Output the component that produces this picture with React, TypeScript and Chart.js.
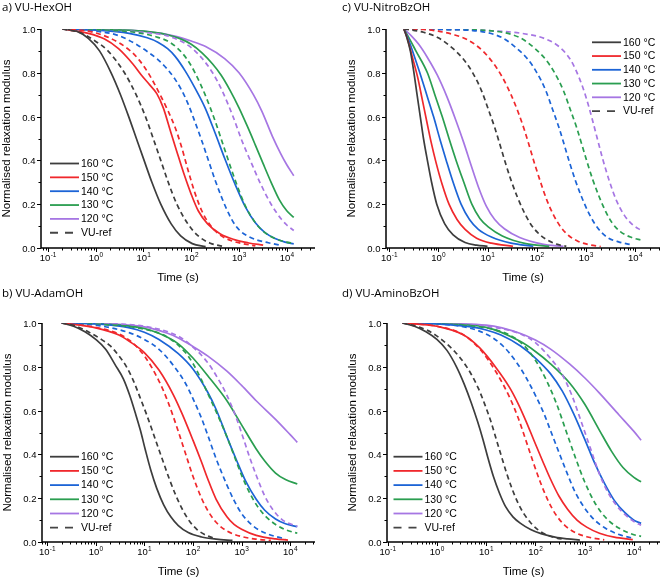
import React, { useEffect, useRef } from 'react';
import { Chart, registerables } from 'chart.js';

Chart.register(...registerables);

type Pt = [number, number];

// ---------- a) VU-HexOH : [time (s), normalised modulus] ----------
const hex160: Pt[] = [[0.2,1],[0.4,0.99],[0.7,0.957],[1.2,0.9],[2.1,0.8],[3.3,0.7],[4.9,0.6],[7.1,0.5],[10.3,0.4],[15,0.3],[23,0.2],[38,0.11],[60,0.055],[105,0.02],[200,0.006]];
const hex150: Pt[] = [[0.2,1],[0.7,0.98],[1.5,0.955],[3,0.91],[6,0.84],[9,0.79],[13.5,0.745],[19,0.705],[26,0.64],[36,0.54],[50,0.44],[70,0.34],[100,0.245],[140,0.17],[220,0.11],[400,0.065],[800,0.038],[1600,0.023],[3200,0.013]];
const hex140: Pt[] = [[0.2,1],[1,0.995],[5,0.98],[12,0.96],[20,0.94],[32,0.91],[46,0.875],[74,0.81],[120,0.73],[195,0.64],[316,0.525],[510,0.405],[830,0.29],[1340,0.19],[2200,0.115],[3500,0.07],[5700,0.043],[9200,0.027],[14000,0.019]];
const hex130: Pt[] = [[0.2,1],[1,0.998],[10,0.99],[30,0.975],[60,0.955],[100,0.93],[170,0.89],[280,0.84],[420,0.79],[650,0.72],[1000,0.64],[1500,0.555],[2200,0.47],[3200,0.385],[4700,0.3],[7000,0.22],[10000,0.17],[14000,0.14]];
const hex120: Pt[] = [[0.2,1],[1,0.998],[10,0.99],[50,0.965],[100,0.945],[200,0.92],[500,0.865],[1000,0.8],[2000,0.7],[3000,0.625],[5000,0.51],[7500,0.43],[10000,0.38],[14000,0.33]];
const hexRef160: Pt[] = [[0.2,1],[0.45,0.985],[0.9,0.95],[1.8,0.9],[4,0.8],[7,0.7],[11,0.6],[16,0.5],[23,0.4],[33,0.3],[50,0.2],[85,0.11],[140,0.055],[250,0.022],[450,0.008]];
const hexRef150: Pt[] = [[0.2,1],[0.7,0.99],[2,0.958],[5,0.905],[8,0.86],[12.5,0.8],[20,0.72],[32,0.63],[46,0.55],[63,0.46],[87,0.35],[120,0.25],[166,0.17],[230,0.115],[370,0.065],[700,0.033],[1340,0.018],[2200,0.01]];
const hexRef140: Pt[] = [[0.2,1],[1,0.99],[3,0.97],[7.7,0.925],[12.4,0.895],[20,0.86],[32,0.815],[46,0.77],[63,0.72],[87,0.655],[120,0.575],[166,0.49],[229,0.4],[316,0.31],[435,0.23],[600,0.16],[830,0.105],[1100,0.075],[1600,0.052],[2500,0.035],[4100,0.024],[7900,0.011]];
const hexRef130: Pt[] = [[0.2,1],[1,0.997],[5,0.988],[12,0.975],[20,0.962],[32,0.945],[50,0.915],[80,0.865],[120,0.8],[195,0.7],[316,0.58],[510,0.445],[830,0.31],[1340,0.195],[2200,0.115],[3500,0.07],[5700,0.043],[9200,0.028],[14000,0.021]];
const hexRef120: Pt[] = [[0.2,1],[1,0.997],[10,0.985],[30,0.97],[60,0.945],[100,0.915],[170,0.865],[280,0.8],[450,0.715],[750,0.6],[1150,0.49],[1800,0.39],[2800,0.295],[4700,0.2],[7500,0.135],[10000,0.105],[14000,0.08]];

// ---------- b) VU-AdamOH ----------
const adam160: Pt[] = [[0.2,1],[0.35,0.985],[0.6,0.96],[1,0.925],[1.6,0.88],[2.5,0.81],[3.7,0.745],[5,0.67],[6.5,0.59],[8.3,0.51],[10.5,0.42],[13.5,0.33],[18,0.245],[25,0.17],[35,0.115],[50,0.075],[80,0.043],[150,0.023],[300,0.013],[650,0.007]];
const adam150: Pt[] = [[0.2,1],[1,0.978],[3,0.945],[5,0.915],[10,0.865],[20,0.785],[40,0.67],[60,0.585],[100,0.465],[150,0.365],[200,0.29],[300,0.195],[500,0.115],[700,0.08],[1000,0.058],[2000,0.03],[5000,0.014],[9000,0.009]];
const adam140: Pt[] = [[0.2,1],[1,0.996],[5,0.978],[10,0.958],[20,0.925],[50,0.86],[100,0.79],[200,0.685],[300,0.605],[500,0.48],[800,0.37],[1200,0.28],[2000,0.195],[3000,0.145],[5000,0.105],[8000,0.083],[14000,0.07]];
const adam130: Pt[] = [[0.2,1],[1,0.997],[10,0.975],[30,0.935],[50,0.905],[100,0.84],[200,0.76],[500,0.645],[1000,0.535],[2000,0.425],[3000,0.37],[5000,0.315],[8000,0.285],[14000,0.265]];
const adam120: Pt[] = [[0.2,1],[1,0.998],[10,0.982],[30,0.953],[50,0.932],[100,0.893],[200,0.85],[500,0.78],[1000,0.715],[2000,0.645],[5000,0.56],[10000,0.49],[14000,0.455]];
const adamRef160: Pt[] = [[0.2,1],[0.4,0.985],[0.7,0.96],[1.2,0.93],[2,0.895],[3,0.85],[4.3,0.8],[6,0.735],[8,0.665],[11,0.585],[14.5,0.51],[19,0.435],[25,0.36],[33,0.285],[45,0.21],[62,0.145],[85,0.095],[120,0.058],[170,0.035],[260,0.018]];
const adamRef150: Pt[] = [[0.2,1],[1,0.98],[3,0.95],[5,0.92],[10,0.85],[20,0.735],[30,0.645],[50,0.505],[70,0.405],[100,0.3],[150,0.2],[200,0.145],[300,0.09],[500,0.05],[1000,0.025],[2000,0.013],[4000,0.007]];
const adamRef140: Pt[] = [[0.2,1],[1,0.99],[5,0.955],[10,0.925],[20,0.88],[40,0.805],[70,0.725],[100,0.655],[150,0.565],[200,0.49],[300,0.38],[500,0.26],[700,0.19],[1000,0.13],[1500,0.085],[2200,0.057],[3500,0.036],[5000,0.025],[8000,0.015]];
const adamRef130: Pt[] = [[0.2,1],[1,0.995],[10,0.972],[30,0.935],[70,0.865],[100,0.815],[150,0.74],[200,0.68],[300,0.595],[500,0.48],[700,0.395],[1000,0.305],[1500,0.22],[2200,0.158],[3200,0.115],[5000,0.08],[8000,0.056],[14000,0.04]];
const adamRef120: Pt[] = [[0.2,1],[1,0.998],[10,0.985],[50,0.94],[100,0.89],[200,0.82],[300,0.76],[500,0.67],[800,0.56],[1100,0.47],[1500,0.38],[2000,0.305],[3000,0.21],[4500,0.145],[7000,0.1],[10000,0.083],[14000,0.072]];

// ---------- c) VU-NitroBzOH ----------
const nit160: Pt[] = [[0.2,1],[0.23,0.96],[0.27,0.9],[0.32,0.8],[0.37,0.7],[0.43,0.6],[0.5,0.5],[0.6,0.4],[0.73,0.3],[0.93,0.2],[1.35,0.11],[2,0.06],[3.5,0.025],[6,0.013],[10,0.008]];
const nit150: Pt[] = [[0.2,1],[0.24,0.95],[0.29,0.88],[0.38,0.78],[0.47,0.68],[0.58,0.58],[0.72,0.48],[0.9,0.39],[1.2,0.29],[1.65,0.2],[2.4,0.13],[3.5,0.085],[6,0.045],[12,0.022],[33,0.008]];
const nit140: Pt[] = [[0.2,1],[0.25,0.95],[0.32,0.88],[0.45,0.78],[0.6,0.69],[0.8,0.6],[1.1,0.49],[1.45,0.4],[2,0.3],[2.9,0.2],[4.3,0.13],[6.5,0.085],[12,0.05],[30,0.022],[85,0.008]];
const nit130: Pt[] = [[0.2,1],[0.26,0.955],[0.35,0.9],[0.6,0.8],[0.85,0.7],[1.2,0.6],[1.65,0.5],[2.3,0.4],[3.3,0.3],[4.8,0.2],[7,0.135],[10.5,0.095],[20,0.055],[60,0.02],[180,0.007]];
const nit120: Pt[] = [[0.2,1],[0.28,0.97],[0.4,0.93],[0.6,0.87],[0.95,0.79],[1.5,0.69],[2.3,0.58],[3.3,0.48],[4.6,0.38],[6.5,0.28],[9.5,0.19],[14,0.13],[22,0.088],[45,0.048],[130,0.018],[350,0.007]];
const nitRef160: Pt[] = [[0.2,1],[0.5,0.985],[1,0.96],[2,0.91],[3.3,0.86],[5,0.8],[7.5,0.72],[10.5,0.63],[14,0.55],[18,0.47],[23,0.39],[30,0.31],[40,0.235],[55,0.165],[75,0.11],[105,0.07],[150,0.042],[250,0.018],[400,0.008]];
const nitRef150: Pt[] = [[0.2,1],[0.5,0.998],[1,0.99],[2,0.975],[4,0.95],[8,0.9],[13,0.845],[20,0.78],[30,0.7],[42,0.62],[56,0.54],[72,0.46],[92,0.38],[120,0.3],[160,0.22],[220,0.15],[310,0.095],[450,0.056],[700,0.03],[1100,0.016],[2000,0.007]];
const nitRef140: Pt[] = [[0.2,1],[1,0.998],[5,0.993],[20,0.96],[40,0.91],[67,0.86],[101,0.8],[152,0.72],[212,0.63],[283,0.55],[364,0.47],[465,0.39],[607,0.31],[810,0.235],[1110,0.165],[1520,0.11],[2100,0.07],[2900,0.045],[4600,0.028],[9000,0.013]];
const nitRef130: Pt[] = [[0.2,1],[1,0.999],[10,0.993],[46,0.96],[93,0.91],[153,0.86],[231,0.8],[347,0.72],[485,0.63],[648,0.55],[832,0.47],[1064,0.39],[1386,0.31],[1850,0.235],[2540,0.165],[3400,0.115],[5000,0.075],[8000,0.05],[14000,0.035]];
const nitRef120: Pt[] = [[0.2,1],[1,0.998],[10,0.993],[50,0.98],[150,0.955],[300,0.915],[500,0.855],[750,0.77],[1000,0.69],[1300,0.6],[1700,0.5],[2200,0.405],[3000,0.305],[4200,0.215],[6000,0.15],[9000,0.105],[14000,0.078]];

// ---------- d) VU-AminoBzOH ----------
const amino160: Pt[] = [[0.2,1],[0.35,0.985],[0.6,0.96],[1,0.925],[1.6,0.875],[2.5,0.8],[3.6,0.72],[5,0.635],[6.7,0.55],[8.7,0.465],[11,0.38],[14,0.3],[18.5,0.225],[25,0.16],[35,0.115],[50,0.085],[80,0.057],[130,0.038],[250,0.022],[450,0.014],[800,0.009]];
const amino150: Pt[] = [[0.2,1],[1,0.985],[3.5,0.945],[7.5,0.885],[16,0.795],[30,0.705],[45,0.63],[65,0.55],[95,0.46],[140,0.37],[200,0.29],[300,0.21],[450,0.15],[700,0.1],[1100,0.068],[2000,0.04],[4000,0.022],[9500,0.011]];
const amino140: Pt[] = [[0.2,1],[1,0.996],[5,0.982],[10,0.968],[20,0.945],[50,0.895],[100,0.84],[200,0.77],[350,0.69],[600,0.585],[1000,0.47],[1600,0.36],[2500,0.27],[4000,0.19],[6500,0.135],[10000,0.1],[14000,0.085]];
const amino130: Pt[] = [[0.2,1],[1,0.997],[10,0.98],[50,0.915],[100,0.87],[200,0.815],[500,0.725],[1000,0.63],[2000,0.51],[3500,0.415],[6000,0.34],[10000,0.295],[14000,0.275]];
const amino120: Pt[] = [[0.2,1],[1,0.998],[10,0.99],[50,0.952],[100,0.922],[200,0.882],[500,0.812],[1000,0.75],[2000,0.68],[5000,0.58],[10000,0.505],[14000,0.465]];
const aminoRef160: Pt[] = [[0.2,1],[0.45,0.98],[0.8,0.955],[1.4,0.915],[2.3,0.87],[3.5,0.82],[5,0.765],[7,0.7],[9.5,0.625],[12.5,0.55],[16,0.47],[20.5,0.39],[26,0.315],[34,0.24],[45,0.175],[60,0.125],[80,0.088],[110,0.058],[160,0.035],[250,0.02],[400,0.011]];
const aminoRef150: Pt[] = [[0.2,1],[1,0.985],[3.5,0.945],[7.5,0.88],[16,0.775],[30,0.66],[45,0.565],[65,0.46],[90,0.365],[125,0.275],[180,0.19],[260,0.125],[400,0.075],[650,0.043],[1100,0.024],[2500,0.01]];
const aminoRef140: Pt[] = [[0.2,1],[1,0.996],[5,0.975],[12,0.94],[22,0.895],[40,0.825],[65,0.75],[100,0.67],[150,0.585],[210,0.5],[300,0.41],[430,0.32],[650,0.225],[1000,0.155],[1600,0.1],[2700,0.062],[5000,0.034],[9600,0.017]];
const aminoRef130: Pt[] = [[0.2,1],[1,0.997],[10,0.978],[30,0.945],[60,0.895],[100,0.83],[170,0.735],[270,0.63],[430,0.5],[650,0.385],[1000,0.275],[1700,0.17],[3000,0.1],[5500,0.058],[10000,0.033],[14000,0.026]];
const aminoRef120: Pt[] = [[0.2,1],[1,0.998],[10,0.985],[50,0.95],[100,0.91],[200,0.84],[350,0.765],[550,0.67],[850,0.55],[1300,0.43],[2000,0.31],[3000,0.225],[4500,0.165],[7000,0.12],[10000,0.094],[14000,0.076]];

// ---------- labels ----------
const TEMP_LABELS = ['160 °C', '150 °C', '140 °C', '130 °C', '120 °C'];
const REF_LABEL = 'VU-ref';
const PANEL_TITLES = ['a) VU-HexOH', 'b) VU-AdamOH', 'c) VU-NitroBzOH', 'd) VU-AminoBzOH'];
const X_TITLE = 'Time (s)';
const Y_TITLE = 'Normalised relaxation modulus';
const X_DECADES = [-1, 0, 1, 2, 3, 4];
const Y_TICK_COUNT = 10; // 0.0 .. 1.0 every 0.1, labelled every 0.2

// ---------- styles ----------
const COLORS = ['#3d3d3d', '#f0282c', '#1c64d6', '#2a9e50', '#a676e3'];
const REF_COLOR = '#454545';
const SANS = '"Liberation Sans", Arial, sans-serif';
const TITLE_FONT = '"Open Sans", "Liberation Sans", sans-serif';

interface PanelDef {
  title: string;
  solid: Pt[][];
  ref: Pt[][];
  left: number; top: number; w: number; h: number;
  pad: { left: number; top: number; right: number; bottom: number };
  xMin: number; xMax: number;
  legend: { x: number; y: number; step: number };
  titlePos: { x: number; y: number };
}

const PANELS: PanelDef[] = [
  {
    title: PANEL_TITLES[0],
    solid: [hex160, hex150, hex140, hex130, hex120],
    ref: [hexRef160, hexRef150, hexRef140, hexRef130, hexRef120],
    left: 0, top: 0, w: 330, h: 290,
    pad: { left: 41, top: 29, right: 15, bottom: 42 },
    xMin: 0.0715, xMax: 39000,
    legend: { x: 50, y: 163.5, step: 13.85 },
    titlePos: { x: 2, y: 7 },
  },
  {
    title: PANEL_TITLES[2],
    solid: [nit160, nit150, nit140, nit130, nit120],
    ref: [nitRef160, nitRef150, nitRef140, nitRef130, nitRef120],
    left: 330, top: 0, w: 331, h: 290,
    pad: { left: 56, top: 29, right: 1, bottom: 42 },
    xMin: 0.0865, xMax: 32000,
    legend: { x: 262, y: 42.3, step: 13.75 },
    titlePos: { x: 342, y: 7 },
  },
  {
    title: PANEL_TITLES[1],
    solid: [adam160, adam150, adam140, adam130, adam120],
    ref: [adamRef160, adamRef150, adamRef140, adamRef130, adamRef120],
    left: 0, top: 290, w: 330, h: 290,
    pad: { left: 42, top: 33, right: 15, bottom: 38 },
    xMin: 0.0785, xMax: 32400,
    legend: { x: 50, y: 166.7, step: 14.2 },
    titlePos: { x: 2, y: 293 },
  },
  {
    title: PANEL_TITLES[3],
    solid: [amino160, amino150, amino140, amino130, amino120],
    ref: [aminoRef160, aminoRef150, aminoRef140, aminoRef130, aminoRef120],
    left: 330, top: 290, w: 331, h: 290,
    pad: { left: 57, top: 33, right: 1, bottom: 38 },
    xMin: 0.097, xMax: 33900,
    legend: { x: 63.5, y: 166.7, step: 14.2 },
    titlePos: { x: 342, y: 293 },
  },
];

const decorPlugin = {
  id: 'decor',
  afterDraw(chart: any, _args: any, opts: any) {
    const { ctx, chartArea: ca } = chart;
    const xs = chart.scales.x;
    const ys = chart.scales.y;
    ctx.save();
    ctx.strokeStyle = '#000';
    ctx.fillStyle = '#000';

    // axis lines
    ctx.lineWidth = 1.5;
    ctx.beginPath();
    ctx.moveTo(ca.left, ca.top);
    ctx.lineTo(ca.left, ca.bottom);
    ctx.lineTo(ca.right, ca.bottom);
    ctx.stroke();

    // y ticks + labels
    ctx.lineWidth = 1;
    ctx.font = `9.5px ${SANS}`;
    ctx.textAlign = 'right';
    ctx.textBaseline = 'middle';
    for (let i = 0; i <= Y_TICK_COUNT; i++) {
      const v = i / Y_TICK_COUNT;
      const py = Math.round(ys.getPixelForValue(v)) + 0.5;
      const major = i % 2 === 0;
      ctx.beginPath();
      ctx.moveTo(ca.left, py);
      ctx.lineTo(ca.left - (major ? 4 : 2.5), py);
      ctx.stroke();
      if (major) ctx.fillText(v.toFixed(1), ca.left - 5.5, py + 0.5);
    }

    // x ticks (log; minor at 2..9)
    for (let e = -2; e <= 5; e++) {
      for (let m = 1; m <= 9; m++) {
        const v = m * Math.pow(10, e);
        if (v < xs.min * 0.999 || v > xs.max * 1.001) continue;
        const px = Math.round(xs.getPixelForValue(v)) + 0.5;
        ctx.beginPath();
        ctx.moveTo(px, ca.bottom);
        ctx.lineTo(px, ca.bottom + (m === 1 ? 4 : 2.5));
        ctx.stroke();
      }
    }
    // x labels 10^n
    ctx.textAlign = 'left';
    for (const e of X_DECADES) {
      const px = xs.getPixelForValue(Math.pow(10, e));
      const base = '10';
      const exp = String(e);
      ctx.font = `9.5px ${SANS}`;
      const wb = ctx.measureText(base).width;
      ctx.font = `6.5px ${SANS}`;
      const we = ctx.measureText(exp).width;
      const x0 = px - (wb + we) / 2;
      const yb = ca.bottom + 10.5;
      ctx.font = `9.5px ${SANS}`;
      ctx.fillText(base, x0, yb);
      ctx.font = `6.5px ${SANS}`;
      ctx.fillText(exp, x0 + wb + 0.3, yb - 3.5);
    }

    // axis titles
    ctx.font = `11.5px ${SANS}`;
    ctx.textAlign = 'center';
    ctx.textBaseline = 'middle';
    ctx.fillText(X_TITLE, (ca.left + ca.right) / 2, ca.bottom + 29.5);
    ctx.save();
    ctx.translate(ca.left - 34, (ca.top + ca.bottom) / 2);
    ctx.rotate(-Math.PI / 2);
    ctx.fillText(Y_TITLE, 0, 0);
    ctx.restore();

    // legend
    const lg = opts.legend;
    ctx.font = `10.5px ${SANS}`;
    ctx.textAlign = 'left';
    ctx.textBaseline = 'middle';
    const entries = [
      ...TEMP_LABELS.map((t, i) => ({ text: t, color: COLORS[i], dash: [] as number[] })),
      { text: REF_LABEL, color: REF_COLOR, dash: [8, 7] },
    ];
    entries.forEach((en, i) => {
      const y = lg.y + i * lg.step;
      ctx.strokeStyle = en.color;
      ctx.lineWidth = 1.8;
      ctx.setLineDash(en.dash);
      ctx.beginPath();
      ctx.moveTo(lg.x, y);
      ctx.lineTo(lg.x + 29, y);
      ctx.stroke();
      ctx.setLineDash([]);
      ctx.fillStyle = '#000';
      ctx.fillText(en.text, lg.x + 31, y + 0.5);
    });
    ctx.restore();
  },
};

function Panel({ def }: { def: PanelDef }) {
  const ref = useRef<HTMLCanvasElement>(null);
  useEffect(() => {
    const canvas = ref.current;
    if (!canvas) return;
    const toXY = (pts: Pt[]) => pts.map(([x, y]) => ({ x, y }));
    const datasets: any[] = [];
    def.ref.forEach((pts, i) => {
      datasets.push({
        label: `${REF_LABEL} ${TEMP_LABELS[i]}`,
        data: toXY(pts),
        borderColor: COLORS[i],
        borderWidth: 1.7,
        borderDash: [5, 3.5],
        pointRadius: 0,
        fill: false,
        cubicInterpolationMode: 'monotone',
      });
    });
    def.solid.forEach((pts, i) => {
      datasets.push({
        label: TEMP_LABELS[i],
        data: toXY(pts),
        borderColor: COLORS[i],
        borderWidth: 1.7,
        pointRadius: 0,
        fill: false,
        cubicInterpolationMode: 'monotone',
      });
    });
    const chart = new Chart(canvas, {
      type: 'line',
      data: { datasets },
      options: {
        responsive: false,
        animation: false,
        devicePixelRatio: 1,
        layout: { padding: def.pad },
        scales: {
          x: { type: 'logarithmic', min: def.xMin, max: def.xMax, display: false },
          y: { type: 'linear', min: 0, max: 1, display: false },
        },
        plugins: {
          legend: { display: false },
          tooltip: { enabled: false },
          decor: { legend: def.legend },
        } as any,
      },
      plugins: [decorPlugin],
    } as any);
    return () => chart.destroy();
  }, [def]);
  return (
    <canvas
      ref={ref}
      width={def.w}
      height={def.h}
      style={{ position: 'absolute', left: def.left, top: def.top, width: def.w, height: def.h }}
    />
  );
}

export default function App() {
  return (
    <div style={{ position: 'absolute', left: 0, top: 0, width: 661, height: 580, background: '#fff', overflow: 'hidden' }}>
      {PANELS.map((p, i) => (
        <Panel key={i} def={p} />
      ))}
      {PANELS.map((p, i) => (
        <div
          key={'t' + i}
          style={{
            position: 'absolute',
            left: p.titlePos.x,
            top: p.titlePos.y - 7,
            font: `11.5px ${TITLE_FONT}`,
            lineHeight: '14px',
            whiteSpace: 'nowrap',
            color: '#000',
          }}
        >
          {p.title}
        </div>
      ))}
    </div>
  );
}
